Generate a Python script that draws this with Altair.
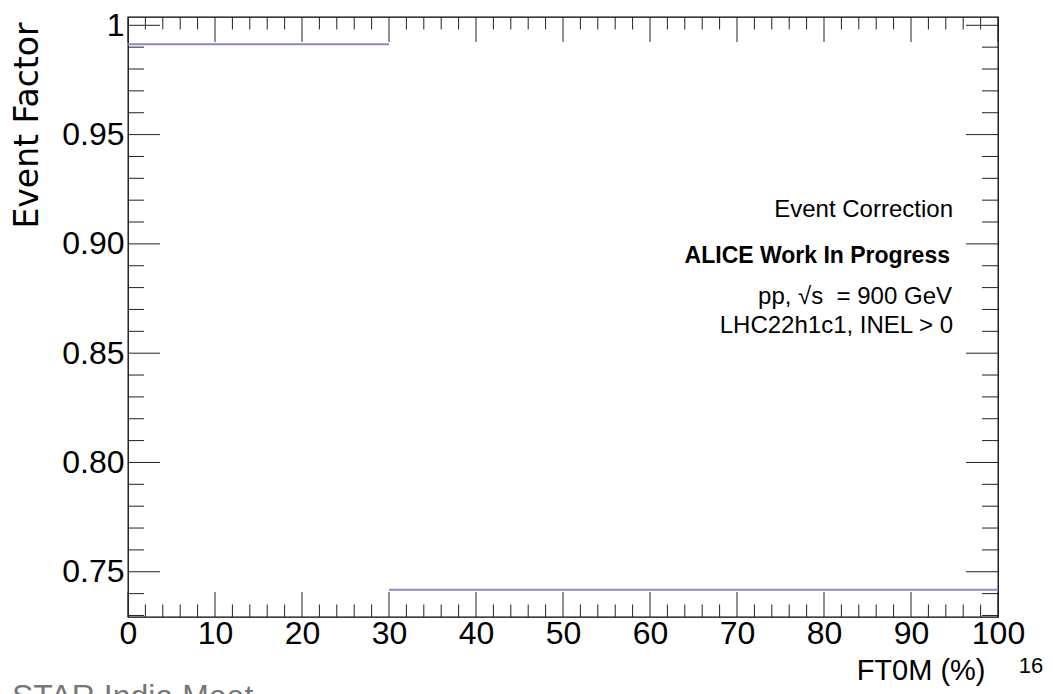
import altair as alt
import pandas as pd

# Event correction factor per FT0M percentile bin
bin_lo = [0, 30]
bin_hi = [30, 100]
factor = [0.9913, 0.7418]

# Tick positions (ROOT-style inward ticks on all four sides)
x_major = [0, 10, 20, 30, 40, 50, 60, 70, 80, 90, 100]
x_minor = [2, 4, 6, 8, 12, 14, 16, 18, 22, 24, 26, 28, 32, 34, 36, 38,
           42, 44, 46, 48, 52, 54, 56, 58, 62, 64, 66, 68, 72, 74, 76, 78,
           82, 84, 86, 88, 92, 94, 96, 98]
y_major = [0.75, 0.80, 0.85, 0.90, 0.95, 1.00]
y_minor = [0.73, 0.74, 0.76, 0.77, 0.78, 0.79, 0.81, 0.82, 0.83, 0.84,
           0.86, 0.87, 0.88, 0.89, 0.91, 0.92, 0.93, 0.94, 0.96, 0.97,
           0.98, 0.99]

W, H = 870, 600
SANS = "Liberation Sans, Arial, Helvetica, sans-serif"
TICK = "#222222"
LINE = "#8a8ac8"

xs = alt.Scale(domain=[0, 100], nice=False, zero=False)
ys = alt.Scale(domain=[0.7293, 1.0038], nice=False, zero=False)

x_axis = alt.Axis(
    values=x_major, ticks=False, tickSize=0, domain=False, grid=False,
    labelFont=SANS, labelFontSize=32, labelColor="black", labelPadding=1,
    labelFlush=False, labelOverlap=False,
    title="FT0M (%)", titleFont=SANS, titleFontSize=29,
    titleFontWeight="normal", titleColor="black",
    titleAlign="right", titleBaseline="alphabetic", titleX=857, titleY=62)

y_axis = alt.Axis(
    values=y_major, ticks=False, tickSize=0, domain=False, grid=False,
    labelExpr="datum.value == 1 ? '1' : format(datum.value, '.2f')",
    labelFont=SANS, labelFontSize=32, labelColor="black", labelPadding=4,
    labelFlush=False, labelOverlap=False,
    title="Event Factor", titleFont="DejaVu Sans", titleFontSize=33,
    titleFontWeight="normal", titleColor="black",
    titleAlign="right", titleBaseline="top", titleX=-117, titleY=5)

hist = pd.DataFrame({"lo": bin_lo, "hi": bin_hi, "f": factor})

steps = alt.Chart(hist).mark_rule(color=LINE, strokeWidth=2).encode(
    x=alt.X("lo:Q", scale=xs, axis=x_axis),
    x2="hi:Q",
    y=alt.Y("f:Q", scale=ys, axis=y_axis),
)


def xticks(vals, length):
    d = pd.DataFrame({"lo": vals})
    x = alt.X("lo:Q", scale=xs, axis=x_axis)
    bottom = alt.Chart(d).mark_rule(color=TICK, strokeWidth=1).encode(
        x=x, y=alt.value(H), y2=alt.value(H - length))
    top = alt.Chart(d).mark_rule(color=TICK, strokeWidth=1).encode(
        x=x, y=alt.value(0), y2=alt.value(length))
    return [bottom, top]


def yticks(vals, length):
    d = pd.DataFrame({"f": vals})
    y = alt.Y("f:Q", scale=ys, axis=y_axis)
    left = alt.Chart(d).mark_rule(color=TICK, strokeWidth=1).encode(
        y=y, x=alt.value(0), x2=alt.value(length))
    right = alt.Chart(d).mark_rule(color=TICK, strokeWidth=1).encode(
        y=y, x=alt.value(W), x2=alt.value(W - length))
    return [left, right]


one = pd.DataFrame({"k": [0]})


def label(text, x, y, size, font=SANS, weight="normal", align="right",
          color="black"):
    return alt.Chart(one).mark_text(
        text=text, font=font, fontSize=size, fontWeight=weight, align=align,
        baseline="alphabetic", color=color).encode(
        x=alt.value(x), y=alt.value(y))


notes = [
    label("Event Correction", 825, 200, 24),
    label("ALICE Work In Progress", 822, 246, 23, weight="bold"),
    label("pp, \u221as\u00a0\u00a0= 900 GeV", 824, 287, 24),
    label("LHC22h1c1, INEL > 0", 825, 316, 24),
    label("16", 903, 656, 22, align="center"),
    label("STAR India Meet", -116, 690, 32, align="left", color="#777777"),
]

chart = alt.layer(
    steps,
    *xticks(x_minor, 12.5), *xticks(x_major, 25),
    *yticks(y_minor, 16), *yticks(y_major, 32),
    *notes,
).properties(
    width=W, height=H,
    autosize=alt.AutoSizeParams(type="none"),
    padding={"left": 128, "top": 17, "right": 55, "bottom": 77},
    background="white",
).configure_view(stroke="black", strokeWidth=1.3)

chart.save("out.html", embed_options={"renderer": "svg", "actions": False})
